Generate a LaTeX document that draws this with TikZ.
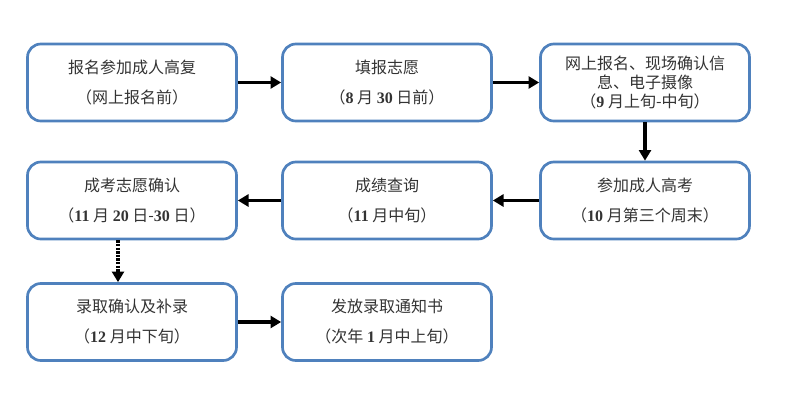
\documentclass[tikz,border=0pt]{standalone}
\usepackage{fontspec}
\setmainfont{Noto Sans CJK SC}
\newfontfamily\numfont{Liberation Serif}
\usetikzlibrary{arrows.meta}
\definecolor{boxblue}{HTML}{4F81BD}
\definecolor{txt}{HTML}{333333}
\newcommand{\nm}[1]{{\numfont\bfseries #1}}
\tikzset{
  stage/.style={draw=boxblue, line width=2pt, rounded corners=10pt,
    minimum width=156.75pt, minimum height=57.75pt, inner sep=0pt,
    text=txt, align=center, font=\fontsize{12pt}{22.5pt}\selectfont},
  stagedense/.style={stage, font=\fontsize{12pt}{14pt}\selectfont},
  flow/.style={line width=2.6pt, -{Triangle[length=8pt,width=9pt]}, draw=black},
  flowdash/.style={flow, dash pattern=on 1.8pt off 0.9pt}
}
\begin{document}
\begin{tikzpicture}[x=0.75pt,y=-0.75pt]
\useasboundingbox (0,0) rectangle (800,400);
\node[stage] (b1) at (132,82.5) {报名参加成人高复\\（网上报名前）};
\node[stage] (b2) at (387,82.5) {填报志愿\\（\nm{8} 月 \nm{30} 日前）};
\node[stagedense] (b3) at (645,82.5) {网上报名、现场确认信\\息、电子摄像\\（\nm{9} 月上旬-中旬）};
\node[stage] (b4) at (132,200.5) {成考志愿确认\\（\nm{11} 月 \nm{20} 日-\nm{30} 日）};
\node[stage] (b5) at (387,200.5) {成绩查询\\（\nm{11} 月中旬）};
\node[stage] (b6) at (645,200.5) {参加成人高考\\（\nm{10} 月第三个周末）};
\node[stage] (b7) at (132,322) {录取确认及补录\\（\nm{12} 月中下旬）};
\node[stage] (b8) at (387,322) {发放录取通知书\\（次年 \nm{1} 月中上旬）};
\draw[flow] (b1.east) -- (b2.west);
\draw[flow] (b2.east) -- (b3.west);
\draw[flow] (b3.south) -- (b6.north);
\draw[flow] (b6.west) -- (b5.east);
\draw[flow] (b5.west) -- (b4.east);
\draw[flowdash] ([xshift=-10.5pt]b4.south) -- ([xshift=-10.5pt]b7.north);
\draw[flow] (b7.east) -- (b8.west);
\end{tikzpicture}
\end{document}
